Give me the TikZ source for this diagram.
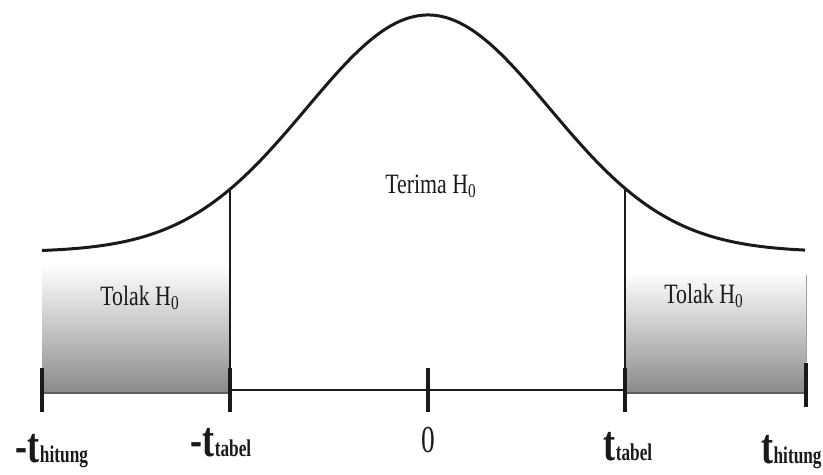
\documentclass[tikz,border=0pt]{standalone}
\usepackage{fontspec}
\setmainfont{Liberation Serif}
\newfontfamily\condfont[FakeStretch=0.78]{Liberation Serif}
\newfontfamily\narrowfont[FakeStretch=0.72]{Liberation Serif}
\usetikzlibrary{positioning}
\definecolor{ink}{HTML}{1A1A1A}
\definecolor{tailgray}{HTML}{8A8A8A}
\definecolor{rimgray}{HTML}{5E5E5E}
\tikzset{
  tail/.style     = {top color=white, bottom color=tailgray},
  rim/.style      = {draw=rimgray, line width=1pt},
  bell/.style     = {draw=ink, line width=1.5pt, line join=round},
  guide/.style    = {draw=ink, line width=0.7pt},
  axisline/.style = {draw=ink, line width=1pt},
  axtick/.style   = {draw=ink, line width=2pt},
  zone/.style     = {font=\condfont\fontsize{14}{16}\selectfont, text=ink, inner sep=1pt},
  tlbl/.style     = {font=\narrowfont\bfseries\fontsize{25}{27}\selectfont, text=ink,
                     inner sep=0pt, anchor=base},
}
\newcommand{\tsub}[1]{t{\fontsize{12}{12}\selectfont #1}}

\begin{document}
\begin{tikzpicture}[x=0.5pt, y=-0.5pt]
  \useasboundingbox (0,0) rectangle (823,475);

  %% ---------------- rejection tails ----------------------------------------------
  \shade[tail] (42,265) rectangle (230,393);
  \shade[tail] (625,272) rectangle (806,393);
  \draw[rim] (42,393) -- (230,393);
  \draw[rim] (625,393) -- (806,393);
  \draw[draw=rimgray!60, line width=0.5pt] (806,275) -- (806,362);

  %% ---------------- density curve -------------------------------------------------
  \draw[bell] plot[domain=42:805, samples=120, smooth]
    (\x, {252-237*exp(-((\x-428)/100)^2/2.951)});

  %% ---------------- axis, guides, ticks -------------------------------------------
  \coordinate (hitl) at (42,390);
  \coordinate (tabl) at (230,390);
  \coordinate (zero) at (428,390);
  \coordinate (tabr) at (625,390);
  \coordinate (hitr) at (806,385);
  \coordinate (topl) at (230,190);
  \coordinate (topr) at (625,190);

  \draw[guide] (topl) -- (tabl);
  \draw[guide] (topr) -- (tabr);
  \draw[axisline] (tabl) -- (zero) -- (tabr);
  \foreach \c in {hitl,tabl,zero,tabr,hitr}
    \draw[axtick] ([yshift=11pt]\c) -- ([yshift=-11pt]\c);

  %% ---------------- labels ----------------------------------------------------------
  \node[zone] (terima) at (431,186) {Terima H\textsubscript{0}};
  \node[zone] (tolakl) at (140,298) {Tolak H\textsubscript{0}};
  \node[zone] (tolakr) at (704,296) {Tolak H\textsubscript{0}};

  \node[tlbl] (lblhl) at (52,462)  {-\tsub{hitung}};
  \node[tlbl] (lbltl) at (221,456) {-\tsub{tabel}};
  \node[tlbl, font=\narrowfont\fontsize{19}{21}\selectfont] (lblz) at (428,452) {0};
  \node[tlbl] (lbltr) at (628,460) {\tsub{tabel}};
  \node[tlbl, anchor=base east] (lblhr) at (822,463) {\tsub{hitung}};
\end{tikzpicture}
\end{document}
